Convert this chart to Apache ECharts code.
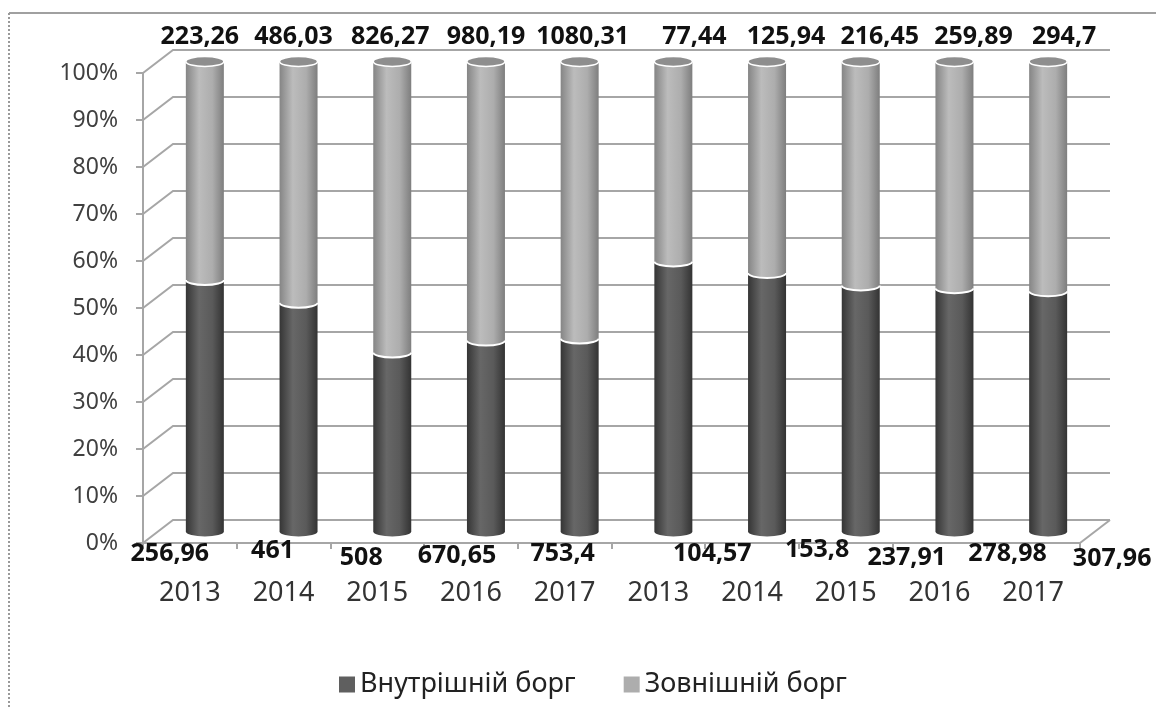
<!DOCTYPE html>
<html>
<head>
<meta charset="utf-8">
<script src="https://cdn.jsdelivr.net/npm/echarts@6/dist/echarts.min.js"></script>
<style>
  html, body { margin: 0; padding: 0; background: #fff; }
  #chart { width: 1156px; height: 709px; }
</style>
</head>
<body>
<div id="chart"></div>
<script>
(function () {
    'use strict';

    // дані
    var categories = ['2013', '2014', '2015', '2016', '2017', '2013', '2014', '2015', '2016', '2017'];
    var internalDebt = [256.96, 461, 508, 670.65, 753.4, 104.57, 153.8, 237.91, 278.98, 307.96];
    var externalDebt = [223.26, 486.03, 826.27, 980.19, 1080.31, 77.44, 125.94, 216.45, 259.89, 294.7];
    var seriesNames = ['Внутрішній борг', 'Зовнішній борг'];

    // псевдо-3D: глибина та розмір циліндрів
    var DX = 30, DY = -23;
    var RX = 19, RY = 5;
    // зсуви підписів як в оригіналі (Excel розставив їх нерівно)
    var innerLabelNudge = [[-35, 11], [-26, 8], [-31, 15], [-29, 13], [-17, 11],
                           [39, 11], [50, 7], [46, 15], [53, 11], [64, 16]];
    var topLabelDx = [-5, -5, -2, 0, 3, 21, 19, 19, 19, 16];
    var FONT = '"Noto Sans", "Open Sans", sans-serif';

    function fmt(v) {
        return String(v).replace('.', ',');
    }

    var innerData = internalDebt.map(function (v, i) {
        return [i, v / (v + externalDebt[i]) * 100, v];
    });
    var outerData = externalDebt.map(function (v, i) {
        return [i, internalDebt[i] / (internalDebt[i] + v) * 100, 100, v];
    });
    var wallData = [0, 10, 20, 30, 40, 50, 60, 70, 80, 90, 100].map(function (v) {
        return [0, v];
    });

    function renderWall(params, api) {
        var v = api.value(1);
        var p = api.coord([0, v]);
        var half = api.size([1, 0])[0] / 2;
        var xl = p[0] - half;
        var xr = api.coord([categories.length - 1, v])[0] + half;
        var style = { stroke: '#a6a6a6', lineWidth: 2, fill: null };
        var children = [{
            type: 'polyline',
            shape: { points: [[xl, p[1]], [xl + DX, p[1] + DY], [xr + DX, p[1] + DY]] },
            style: style
        }];
        if (v === 0) {
            children.push({
                type: 'line',
                shape: { x1: xr, y1: p[1], x2: xr + DX, y2: p[1] + DY },
                style: style
            });
        }
        return { type: 'group', children: children };
    }

    function renderInner(params, api) {
        var i = api.value(0);
        var base = api.coord([i, 0]);
        var mid = api.coord([i, api.value(1)]);
        var x = base[0] + DX / 2;
        var yb = base[1] + DY / 2;
        var ym = mid[1] + DY / 2;
        var nudge = innerLabelNudge[i];
        return {
            type: 'group',
            children: [{
                type: 'path',
                shape: {
                    pathData: 'M' + (x - RX) + ',' + ym + 'L' + (x - RX) + ',' + yb +
                        'A' + RX + ',' + RY + ' 0 0 0 ' + (x + RX) + ',' + yb +
                        'L' + (x + RX) + ',' + ym + 'Z'
                },
                style: {
                    fill: new echarts.graphic.LinearGradient(0, 0, 1, 0, [
                        { offset: 0, color: '#353535' },
                        { offset: 0.35, color: '#676767' },
                        { offset: 0.7, color: '#5a5a5a' },
                        { offset: 1, color: '#333333' }
                    ])
                }
            }, {
                type: 'text',
                style: {
                    text: fmt(api.value(2)),
                    x: x + nudge[0],
                    y: base[1] + nudge[1],
                    align: 'center',
                    verticalAlign: 'middle',
                    fill: '#111',
                    fontSize: 25,
                    fontWeight: 'bold',
                    fontFamily: FONT
                }
            }]
        };
    }

    function renderOuter(params, api) {
        var i = api.value(0);
        var mid = api.coord([i, api.value(1)]);
        var top = api.coord([i, api.value(2)]);
        var x = mid[0] + DX / 2;
        var ym = mid[1] + DY / 2;
        var yt = top[1] + DY / 2;
        return {
            type: 'group',
            children: [{
                type: 'path',
                shape: {
                    pathData: 'M' + (x - RX) + ',' + yt + 'L' + (x - RX) + ',' + ym +
                        'A' + RX + ',' + RY + ' 0 0 0 ' + (x + RX) + ',' + ym +
                        'L' + (x + RX) + ',' + yt + 'Z'
                },
                style: {
                    fill: new echarts.graphic.LinearGradient(0, 0, 1, 0, [
                        { offset: 0, color: '#858585' },
                        { offset: 0.35, color: '#bcbcbc' },
                        { offset: 0.7, color: '#adadad' },
                        { offset: 1, color: '#7e7e7e' }
                    ])
                }
            }, {
                type: 'path',
                shape: {
                    pathData: 'M' + (x - RX) + ',' + ym +
                        'A' + RX + ',' + RY + ' 0 0 0 ' + (x + RX) + ',' + ym
                },
                style: { fill: null, stroke: '#ffffff', lineWidth: 2 }
            }, {
                type: 'path',
                shape: {
                    pathData: 'M' + (x - RX) + ',' + yt +
                        'A' + RX + ',' + RY + ' 0 1 0 ' + (x + RX) + ',' + yt +
                        'A' + RX + ',' + RY + ' 0 1 0 ' + (x - RX) + ',' + yt + 'Z'
                },
                style: { fill: '#8e8e8e', stroke: '#ffffff', lineWidth: 1.5 }
            }, {
                type: 'text',
                style: {
                    text: fmt(api.value(3)),
                    x: x + topLabelDx[i],
                    y: top[1] - 36,
                    align: 'center',
                    verticalAlign: 'middle',
                    fill: '#111',
                    fontSize: 25,
                    fontWeight: 'bold',
                    fontFamily: FONT
                }
            }]
        };
    }

    var chart = echarts.init(document.getElementById('chart'));

    chart.setOption({
        animation: false,
        backgroundColor: '#fff',
        grid: { left: 143, top: 73, width: 937, height: 470 },
        graphic: [{
            type: 'line',
            shape: { x1: 9, y1: 13, x2: 1156, y2: 13 },
            style: { stroke: '#a0a0a0', lineWidth: 2 }
        }, {
            type: 'line',
            shape: { x1: 9, y1: 13, x2: 9, y2: 709 },
            style: { stroke: '#999', lineWidth: 2, lineDash: [2, 2] }
        }],
        legend: {
            data: seriesNames,
            left: 334,
            top: 666,
            icon: 'rect',
            itemWidth: 16,
            itemHeight: 16,
            itemGap: 48,
            textStyle: { fontSize: 27, color: '#222', fontFamily: FONT }
        },
        xAxis: {
            type: 'category',
            data: categories,
            axisLine: { lineStyle: { color: '#a6a6a6', width: 2 } },
            axisTick: { show: true, length: 6, interval: 0, lineStyle: { color: '#a6a6a6', width: 2 } },
            axisLabel: { interval: 0, margin: 37, fontSize: 27, color: '#333', fontFamily: FONT },
            splitLine: { show: false }
        },
        yAxis: {
            type: 'value',
            min: 0,
            max: 100,
            interval: 10,
            axisLine: { show: true, lineStyle: { color: '#a6a6a6', width: 2 } },
            axisTick: { show: true, length: 7, lineStyle: { color: '#a6a6a6', width: 2 } },
            axisLabel: { formatter: '{value}%', margin: 25, fontSize: 23, color: '#404040', fontFamily: FONT },
            splitLine: { show: false }
        },
        series: [{
            type: 'custom',
            name: 'walls',
            z: 1,
            silent: true,
            renderItem: renderWall,
            data: wallData
        }, {
            type: 'custom',
            name: seriesNames[0],
            z: 3,
            itemStyle: { color: '#5f5f5f' },
            renderItem: renderInner,
            encode: { x: 0, y: 1 },
            data: innerData
        }, {
            type: 'custom',
            name: seriesNames[1],
            z: 4,
            itemStyle: { color: '#adadad' },
            renderItem: renderOuter,
            encode: { x: 0, y: 2 },
            data: outerData
        }]
    });
})();
</script>
</body>
</html>
